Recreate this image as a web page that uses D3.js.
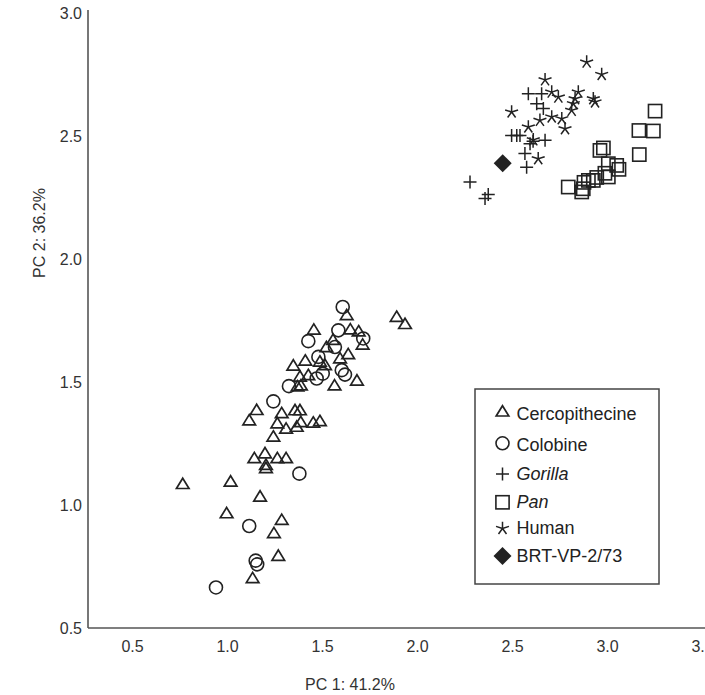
<!DOCTYPE html>
<html>
<head>
<meta charset="utf-8">
<script src="https://cdn.jsdelivr.net/npm/d3@7"></script>
<style>
  body { margin: 0; background: #fff; }
  svg { display: block; font-family: "Liberation Sans", Arial, sans-serif; }
</style>
</head>
<body>
<div id="chart"></div>
<script>
// PC1 / PC2 scores
var cercopithecine = [
  [1.630,1.772],[1.457,1.713],[1.649,1.714],[1.693,1.706],[1.714,1.652],[1.558,1.671],
  [1.523,1.642],[1.638,1.613],[1.595,1.596],[1.412,1.587],[1.349,1.567],[1.489,1.583],
  [1.516,1.569],[1.384,1.522],[1.428,1.528],[1.566,1.486],[1.684,1.506],[1.371,1.482],
  [1.389,1.486],[1.893,1.765],[1.937,1.736],[1.156,1.386],[1.117,1.344],[1.288,1.373],
  [1.358,1.385],[1.384,1.385],[1.265,1.332],[1.311,1.310],[1.367,1.318],[1.388,1.337],
  [1.454,1.335],[1.489,1.341],[1.244,1.278],[1.144,1.190],[1.200,1.210],[1.205,1.163],
  [1.205,1.150],[1.265,1.190],[1.311,1.190],[0.767,1.085],[1.019,1.095],[1.174,1.034],
  [0.998,0.966],[1.288,0.939],[1.247,0.885],[1.270,0.793],[1.135,0.702]
];
var colobine = [
  [1.609,1.806],[1.586,1.711],[1.717,1.678],[1.428,1.667],[1.568,1.643],[1.481,1.603],
  [1.504,1.535],[1.472,1.515],[1.604,1.549],[1.621,1.531],[1.326,1.484],[1.244,1.422],
  [1.381,1.128],[1.117,0.915],[1.151,0.774],[1.159,0.759],[0.942,0.665]
];
var gorilla = [
  [2.586,2.674],[2.656,2.674],[2.630,2.633],[2.665,2.613],[2.498,2.504],[2.525,2.504],
  [2.542,2.504],[2.674,2.484],[2.595,2.470],[2.568,2.430],[2.577,2.375],[2.279,2.314],
  [2.358,2.247],[2.375,2.264],[2.611,2.480]
];
var pan = [
  [3.253,2.603],[3.168,2.524],[3.244,2.522],[3.170,2.426],[2.963,2.443],[2.981,2.453],
  [3.007,2.389],[3.051,2.382],[3.063,2.366],[3.007,2.335],[2.989,2.350],[2.928,2.321],
  [2.902,2.321],[2.879,2.313],[2.867,2.274],[2.875,2.287],[2.796,2.294],[2.946,2.333]
];
var human = [
  [2.893,2.802],[2.972,2.752],[2.674,2.730],[2.709,2.680],[2.744,2.660],[2.849,2.680],
  [2.832,2.653],[2.823,2.633],[2.814,2.606],[2.928,2.653],[2.937,2.640],[2.498,2.599],
  [2.647,2.565],[2.709,2.579],[2.762,2.572],[2.779,2.531],[2.586,2.538],[2.612,2.486],
  [2.638,2.409]
];
var brt = [[2.451,2.391]];

var xTicks = [0.5, 1.0, 1.5, 2.0, 2.5, 3.0, 3.5];
var yTicks = [0.5, 1.0, 1.5, 2.0, 2.5, 3.0];
var legendNames = ["Cercopithecine", "Colobine", "Gorilla", "Pan", "Human", "BRT-VP-2/73"];
var italicNames = ["Gorilla", "Pan"];

var width = 705, height = 695;
var ink = "#222";

var svg = d3.select("#chart").append("svg")
    .attr("width", width)
    .attr("height", height);

var x = d3.scaleLinear().domain([0.5, 3.5]).range([132, 702]);
var y = d3.scaleLinear().domain([0.5, 3.0]).range([628, 13.5]);

// axis lines
svg.append("line")
    .attr("x1", 88).attr("x2", 88)
    .attr("y1", y(0.5)).attr("y2", y(3.0) - 3.5)
    .attr("stroke", "#555").attr("stroke-width", 1.6);
svg.append("line")
    .attr("x1", 88).attr("x2", width)
    .attr("y1", y(0.5)).attr("y2", y(0.5))
    .attr("stroke", "#555").attr("stroke-width", 1.6);

var xAxis = svg.append("g")
    .attr("transform", "translate(0," + y(0.5) + ")")
    .call(d3.axisBottom(x).tickValues(xTicks).tickFormat(d3.format(".1f")).tickSize(0).tickPadding(13));
var yAxis = svg.append("g")
    .attr("transform", "translate(88,0)")
    .call(d3.axisLeft(y).tickValues(yTicks).tickFormat(d3.format(".1f")).tickSize(0).tickPadding(6));

[xAxis, yAxis].forEach(function(a) {
  a.select(".domain").remove();
  a.selectAll("text")
    .attr("font-family", "Liberation Sans, Arial, sans-serif")
    .attr("font-size", 16)
    .attr("fill", "#333");
});

svg.append("text")
    .attr("x", 350).attr("y", 690)
    .attr("text-anchor", "middle")
    .attr("font-size", 16).attr("fill", "#333")
    .text("PC 1: 41.2%");
svg.append("text")
    .attr("transform", "translate(45,233) rotate(-90)")
    .attr("text-anchor", "middle")
    .attr("font-size", 16).attr("fill", "#333")
    .text("PC 2: 36.2%");

// symbol drawers, centred on (0,0)
function triangle(g) {
  g.append("path").attr("d", "M0,-6L6.3,4.3L-6.3,4.3Z")
    .attr("fill", "none").attr("stroke", ink).attr("stroke-width", 1.7).attr("stroke-linejoin", "miter");
}
function circle(g) {
  g.append("circle").attr("r", 6.5)
    .attr("fill", "none").attr("stroke", ink).attr("stroke-width", 1.6);
}
function plus(g) {
  g.append("path").attr("d", "M-6.5,0H6.5M0,-6.5V6.5")
    .attr("fill", "none").attr("stroke", ink).attr("stroke-width", 1.5);
}
function square(g) {
  g.append("rect").attr("x", -6.6).attr("y", -6.6).attr("width", 13.2).attr("height", 13.2)
    .attr("fill", "none").attr("stroke", ink).attr("stroke-width", 1.6);
}
function star(g) {
  var d = "";
  for (var k = 0; k < 5; k++) {
    var a = (-90 + k * 72) * Math.PI / 180;
    d += "M0,0L" + (6.8 * Math.cos(a)).toFixed(2) + "," + (6.8 * Math.sin(a)).toFixed(2);
  }
  g.append("path").attr("d", d)
    .attr("fill", "none").attr("stroke", ink).attr("stroke-width", 1.5);
}
function diamond(g) {
  g.append("path").attr("d", "M0,-9L9,0L0,9L-9,0Z").attr("fill", ink);
}

var groups = [
  {data: colobine, draw: circle},
  {data: cercopithecine, draw: triangle},
  {data: pan, draw: square},
  {data: gorilla, draw: plus},
  {data: human, draw: star},
  {data: brt, draw: diamond}
];

groups.forEach(function(grp) {
  svg.append("g").selectAll("g")
    .data(grp.data)
    .enter().append("g")
      .attr("transform", function(d) { return "translate(" + x(d[0]) + "," + y(d[1]) + ")"; })
      .each(function() { grp.draw(d3.select(this)); });
});

// legend
var legendDraw = [triangle, circle, plus, square, star, diamond];
var legendSymY = [411.7, 443.3, 474, 502.3, 528.5, 556];
var legendTxtY = [419.5, 450.5, 480, 507.7, 534.3, 562];

svg.append("rect")
    .attr("x", 475).attr("y", 389).attr("width", 184).attr("height", 195)
    .attr("fill", "#fff").attr("stroke", "#444").attr("stroke-width", 1.5);

legendNames.forEach(function(name, i) {
  var g = svg.append("g").attr("transform", "translate(502.5," + legendSymY[i] + ")");
  legendDraw[i](g);
  svg.append("text")
    .attr("x", 516.5).attr("y", legendTxtY[i])
    .attr("font-size", 18).attr("fill", "#222")
    .attr("font-style", italicNames.indexOf(name) >= 0 ? "italic" : "normal")
    .text(name);
});
</script>
</body>
</html>
